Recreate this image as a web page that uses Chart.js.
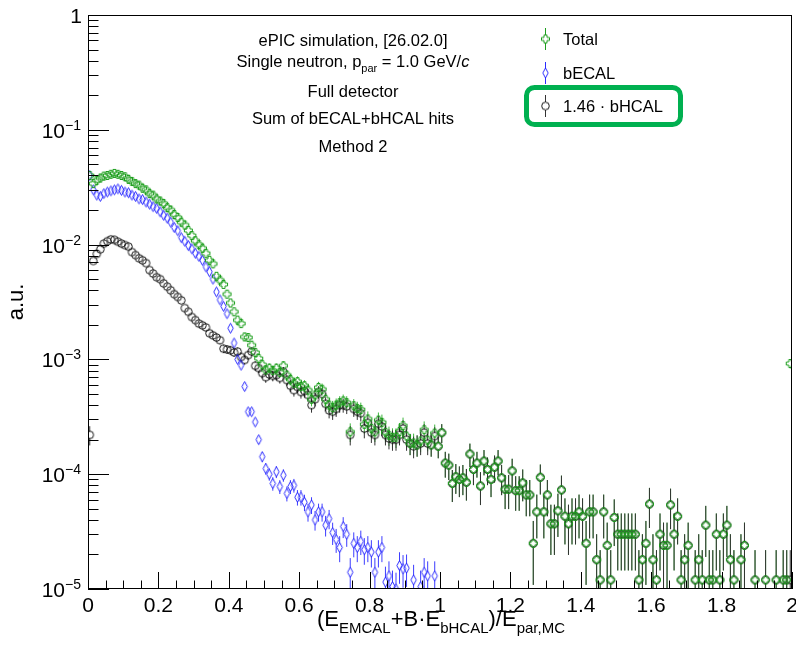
<!DOCTYPE html>
<html>
<head>
<meta charset="utf-8">
<script src="https://cdn.jsdelivr.net/npm/chart.js@4.4.0/dist/chart.umd.min.js"></script>
<style>
  html, body { margin: 0; padding: 0; background: #fff; }
  #wrap { width: 796px; height: 647px; }
</style>
</head>
<body>
<div id="wrap"><canvas id="resChart" width="796" height="647"></canvas></div>
<script>
// --- histogram binning: 200 bins of 0.01 from 0 to 2 ---
const N_BINS = 200;
const BIN_WIDTH = 0.01;
const binCenters = Array.from({ length: N_BINS }, (_, i) => +(0.005 + i * BIN_WIDTH).toFixed(3));

// --- series values (a.u.), one per bin, null = empty bin ---
const totalValues = [
  4.0e-2, 3.4e-2, 3.63e-2, 3.8e-2, 3.95e-2, 4.0e-2, 4.1e-2, 4.17e-2, 4.1e-2, 4.0e-2,
  3.9e-2, 3.7e-2, 3.55e-2, 3.4e-2, 3.3e-2, 3.1e-2, 3.0e-2, 2.78e-2, 2.7e-2, 2.5e-2,
  2.4e-2, 2.28e-2, 2.1e-2, 2.0e-2, 1.83e-2, 1.72e-2, 1.57e-2, 1.48e-2, 1.33e-2, 1.2e-2,
  1.08e-2, 1.0e-2, 9.3e-3, 8.4e-3, 7.3e-3, 6.8e-3, 5.3e-3, 4.9e-3, 4.5e-3, 3.7e-3,
  3.1e-3, 2.6e-3, 2.2e-3, 2.05e-3, 1.57e-3, 1.55e-3, 1.33e-3, 1.15e-3, 1.02e-3, 9.0e-4,
  8.1e-4, 8.4e-4, 8.0e-4, 8.4e-4, 7.7e-4, 8.8e-4, 7.3e-4, 6.7e-4, 6.2e-4, 6.4e-4,
  5.8e-4, 5.9e-4, 5.4e-4, 4.5e-4, 4.9e-4, 5.7e-4, 5.5e-4, 4.5e-4, 4.0e-4, 3.8e-4,
  4.0e-4, 4.2e-4, 4.35e-4, 4.2e-4, 2.34e-4, 3.95e-4, 3.73e-4, 3.66e-4, 2.72e-4, 3.03e-4,
  2.51e-4, 2.34e-4, 2.96e-4, 2.83e-4, 2.32e-4, 2.18e-4, 2.1e-4, 2.1e-4, 2.36e-4, 2.65e-4,
  2.15e-4, 1.85e-4, 1.87e-4, 1.8e-4, 1.95e-4, 2.44e-4, 1.98e-4, 1.8e-4, 2.28e-4, 1.75e-4,
  2.3e-4, 1.25e-4, 1.2e-4, 8.3e-5, 9.5e-5, 9.0e-5, 9.3e-5, 8.5e-5, 1.5e-4, 1.1e-4,
  1.25e-4, 7.9e-5, 1.3e-4, 1.1e-4, 9.0e-5, 1.15e-4, 1.3e-4, 9.3e-5, 7.4e-5, 7.4e-5,
  1.07e-4, 7.2e-5, 7.2e-5, 8.4e-5, 6.6e-5, 6.6e-5, 2.5e-5, 4.7e-5, 9.4e-5, 4.7e-5,
  6.6e-5, 3.7e-5, 3.7e-5, 4.8e-5, 7.3e-5, 4.3e-5, 3.7e-5, 4.3e-5, 4.3e-5, 4.7e-5,
  4.3e-5, 2.5e-5, 4.7e-5, 4.7e-5, 1.8e-5, 1.2e-5, 4.7e-5, 2.4e-5, 1.2e-5, 4.2e-5,
  3.0e-5, 3.0e-5, 3.0e-5, 3.0e-5, 3.0e-5, 3.0e-5, 1.2e-5, 1.8e-5, 2.5e-5, 5.5e-5,
  1.8e-5, 1.2e-5, 3.0e-5, 2.4e-5, 2.4e-5, 5.4e-5, 3.0e-5, 4.3e-5, 1.2e-5, 1.8e-5,
  2.4e-5, null, 1.2e-5, 1.8e-5, 1.2e-5, 3.6e-5, 1.2e-5, 1.2e-5, 3.0e-5, 1.2e-5,
  3.0e-5, 3.6e-5, 1.8e-5, 1.2e-5, null, 1.8e-5, 2.4e-5, null, null, 1.2e-5,
  null, null, 1.2e-5, null, null, 1.2e-5, null, 1.2e-5, 1.2e-5, 9.2e-4
];

const becalValues = [
  4.0e-2, 3.0e-2, 2.7e-2, 2.63e-2, 2.78e-2, 2.87e-2, 2.94e-2, 3.0e-2, 3.06e-2, 2.97e-2,
  2.87e-2, 2.83e-2, 2.7e-2, 2.63e-2, 2.5e-2, 2.47e-2, 2.35e-2, 2.25e-2, 2.14e-2, 2.07e-2,
  1.93e-2, 1.8e-2, 1.7e-2, 1.57e-2, 1.41e-2, 1.32e-2, 1.15e-2, 1.07e-2, 9.8e-3, 9.2e-3,
  8.4e-3, 7.9e-3, 7.3e-3, 6.4e-3, 5.8e-3, 5.0e-3, 3.87e-3, 3.3e-3, 2.9e-3, 2.5e-3,
  1.87e-3, 1.39e-3, 1.0e-3, 8.9e-4, 5.8e-4, 3.5e-4, 3.5e-4, 2.85e-4, 2.0e-4, 1.42e-4,
  1.12e-4, 1.0e-4, 8.3e-5, 1.05e-4, 7.8e-5, 9.8e-5, 6.8e-5, 7.8e-5, 8.0e-5, 6.3e-5,
  6.3e-5, 5.7e-5, 4.7e-5, 5.4e-5, 4.0e-5, 4.7e-5, 4.7e-5, 3.6e-5, 4.1e-5, 3.1e-5,
  2.7e-5, 2.3e-5, 3.5e-5, 3.0e-5, 1.4e-5, 2.5e-5, 2.3e-5, 2.6e-5, 2.2e-5, 2.3e-5,
  2.1e-5, 1.4e-5, 2.1e-5, 2.3e-5, 1.15e-5, 1.3e-5, 1.05e-5, 1.0e-5, 1.6e-5, 1.5e-5,
  1.52e-5, null, 1.2e-5, null, 1.05e-5, 1.4e-5, 1.3e-5, null, 1.3e-5, null
];

const bhcalValues = [
  2.2e-4, 7.2e-3, 8.3e-3, 9.1e-3, 1.02e-2, 1.07e-2, 1.11e-2, 1.10e-2, 1.06e-2, 1.02e-2,
  9.9e-3, 9.6e-3, 8.6e-3, 8.1e-3, 7.6e-3, 7.3e-3, 6.9e-3, 6.0e-3, 5.6e-3, 5.2e-3,
  5.0e-3, 4.6e-3, 4.3e-3, 4.0e-3, 3.7e-3, 3.5e-3, 3.27e-3, 2.8e-3, 2.6e-3, 2.34e-3,
  2.2e-3, 2.05e-3, 1.98e-3, 1.9e-3, 1.69e-3, 1.62e-3, 1.55e-3, 1.47e-3, 1.24e-3, 1.22e-3,
  1.2e-3, 1.15e-3, 1.17e-3, 1.05e-3, 9.9e-4, 1.09e-3, 1.17e-3, 8.8e-4, 8.4e-4, 7.6e-4,
  7.0e-4, 7.4e-4, 7.2e-4, 7.3e-4, 6.9e-4, 7.8e-4, 6.6e-4, 5.9e-4, 5.4e-4, 5.75e-4,
  5.2e-4, 5.3e-4, 4.9e-4, 4.0e-4, 4.5e-4, 5.2e-4, 5.0e-4, 4.1e-4, 3.6e-4, 3.5e-4,
  3.7e-4, 4.0e-4, 4.0e-4, 3.9e-4, 2.2e-4, 3.7e-4, 3.5e-4, 3.4e-4, 2.5e-4, 2.8e-4,
  2.3e-4, 2.2e-4, 2.75e-4, 2.6e-4, 2.2e-4, 2.05e-4, 2.0e-4, 2.0e-4, 2.2e-4, 2.5e-4,
  2.0e-4, 1.85e-4, 1.75e-4, 1.8e-4, 1.85e-4, 2.3e-4, 1.85e-4, 1.8e-4, 2.15e-4, 1.75e-4,
  2.3e-4, 1.25e-4, 1.2e-4, 8.3e-5, 9.5e-5, 9.0e-5, 9.3e-5, 8.5e-5, 1.5e-4, 1.1e-4,
  1.25e-4, 7.9e-5, 1.3e-4, 1.1e-4, 9.0e-5, 1.15e-4, 1.3e-4, 9.3e-5, 7.4e-5, 7.4e-5,
  1.07e-4, 7.2e-5, 7.2e-5, 8.4e-5, 6.6e-5, 6.6e-5, 2.5e-5, 4.7e-5, 9.4e-5, 4.7e-5,
  6.6e-5, 3.7e-5, 3.7e-5, 4.8e-5, 7.3e-5, 4.3e-5, 3.7e-5, 4.3e-5, 4.3e-5, 4.7e-5,
  4.3e-5, 2.5e-5, 4.7e-5, 4.7e-5, 1.8e-5, 1.2e-5, 4.7e-5, 2.4e-5, 1.2e-5, 4.2e-5,
  3.0e-5, 3.0e-5, 3.0e-5, 3.0e-5, 3.0e-5, 3.0e-5, 1.2e-5, 1.8e-5, 2.5e-5, 5.5e-5,
  1.8e-5, 1.2e-5, 3.0e-5, 2.4e-5, 2.4e-5, 5.4e-5, 3.0e-5, 4.3e-5, 1.2e-5, 1.8e-5,
  2.4e-5, null, 1.2e-5, 1.8e-5, 1.2e-5, 3.6e-5, 1.2e-5, 1.2e-5, 3.0e-5, 1.2e-5,
  3.0e-5, 3.6e-5, 1.8e-5, 1.2e-5, null, 1.8e-5, 2.4e-5, null, null, 1.2e-5,
  null, null, 1.2e-5, null, null, 1.2e-5, null, 1.2e-5, 1.2e-5, 1.2e-5
];

// weight of a single entry, gives the statistical error sqrt(value * w)
const totalEntryWeight = 8e-6;
const becalEntryWeight = 1.5e-6;
const bhcalEntryWeight = 8e-6;

// --- axes ---
const xTicks = [0, 0.2, 0.4, 0.6, 0.8, 1.0, 1.2, 1.4, 1.6, 1.8, 2.0];
const xTickLabels = ['0', '0.2', '0.4', '0.6', '0.8', '1', '1.2', '1.4', '1.6', '1.8', '2'];
const yTicks = [1, 1e-1, 1e-2, 1e-3, 1e-4, 1e-5];
const yTickExponents = [null, '\u22121', '\u22122', '\u22123', '\u22124', '\u22125'];

const legendLabels = ['Total', 'bECAL', '1.46 \u00b7 bHCAL'];
const infoLines = [
    'ePIC simulation, [26.02.0]',
    'Single neutron, p_par = 1.0 GeV/c',
    'Full detector',
    'Sum of bECAL+bHCAL hits',
    'Method 2'
];

const FONT = '"Liberation Sans", Arial, Helvetica, sans-serif';
const GREEN = '#1c9e1c';
const BLUE = '#2a2aff';

// open ROOT-like markers drawn on small canvases
function makeMarker(kind, color) {
    const c = document.createElement('canvas');
    c.width = 13; c.height = 13;
    const g = c.getContext('2d');
    g.strokeStyle = color;
    g.lineWidth = 1;
    const m = 6.5;
    g.beginPath();
    if (kind === 'circle') {
        g.arc(m, m, 3.8, 0, Math.PI * 2);
    } else if (kind === 'diamond') {
        g.moveTo(m, m - 5); g.lineTo(m + 2.7, m); g.lineTo(m, m + 5); g.lineTo(m - 2.7, m); g.closePath();
    } else {
        const a = 1.5, r = 4;
        const pts = [[-a,-r],[a,-r],[a,-a],[r,-a],[r,a],[a,a],[a,r],[-a,r],[-a,a],[-r,a],[-r,-a],[-a,-a]];
        pts.forEach(([dx, dy], k) => k ? g.lineTo(m + dx, m + dy) : g.moveTo(m + dx, m + dy));
        g.closePath();
    }
    g.stroke();
    return c;
}

const crossMarker = makeMarker('cross', GREEN);
const diamondMarker = makeMarker('diamond', BLUE);
const circleMarker = makeMarker('circle', '#111');

function toPoints(values) {
    const pts = [];
    values.forEach((v, i) => { if (v != null) pts.push({ x: binCenters[i], y: v }); });
    return pts;
}

// text with sub/superscripts: parts = [{t, size, dy, italic}]
function drawParts(ctx, parts, x, baseline, align) {
    const widths = parts.map(p => {
        ctx.font = (p.italic ? 'italic ' : '') + p.size + 'px ' + FONT;
        return ctx.measureText(p.t).width;
    });
    const total = widths.reduce((s, w) => s + w, 0);
    let cx = align === 'center' ? x - total / 2 : (align === 'right' ? x - total : x);
    ctx.textAlign = 'left';
    ctx.textBaseline = 'alphabetic';
    parts.forEach((p, k) => {
        ctx.font = (p.italic ? 'italic ' : '') + p.size + 'px ' + FONT;
        ctx.fillText(p.t, cx, baseline + (p.dy || 0));
        cx += widths[k];
    });
}

const rootStyle = {
    id: 'rootStyle',
    beforeDatasetsDraw(chart) {
        const { ctx, chartArea: a, scales: { x, y } } = chart;
        ctx.save();
        ctx.beginPath();
        ctx.rect(a.left, a.top, a.width, a.height);
        ctx.clip();
        ctx.lineWidth = 1;
        chart.data.datasets.forEach(ds => {
            ctx.strokeStyle = ds.errColor;
            ds.data.forEach(p => {
                const err = Math.sqrt(p.y * ds.entryWeight);
                const px = x.getPixelForValue(p.x);
                const py = y.getPixelForValue(p.y);
                const top = y.getPixelForValue(p.y + err);
                const lo = p.y - err;
                const bot = lo > 0 ? y.getPixelForValue(lo) : a.bottom + 5;
                ctx.beginPath();
                if (top < py - ds.gap) { ctx.moveTo(px, top); ctx.lineTo(px, py - ds.gap); }
                if (bot > py + ds.gap) { ctx.moveTo(px, py + ds.gap); ctx.lineTo(px, bot); }
                ctx.stroke();
            });
        });
        ctx.restore();
    },
    afterDraw(chart) {
        const { ctx, chartArea: a, scales: { x, y } } = chart;
        ctx.save();
        ctx.fillStyle = '#000';
        ctx.strokeStyle = '#000';
        ctx.lineWidth = 1;

        // frame
        ctx.strokeRect(a.left + 0.5, a.top + 0.5, a.width - 1, a.height - 1);

        // x ticks (inside)
        ctx.beginPath();
        for (let k = 0; k <= 40; k++) {
            const v = k * 0.05;
            const px = Math.round(x.getPixelForValue(v)) + 0.5;
            const len = k % 4 === 0 ? 17 : 8.5;
            ctx.moveTo(px, a.bottom);
            ctx.lineTo(px, a.bottom - len);
        }
        // y ticks (log, inside)
        for (let d = -5; d <= 0; d++) {
            for (let m = 1; m <= 9; m++) {
                const v = m * Math.pow(10, d);
                if (v > 1.0001) break;
                const py = Math.round(y.getPixelForValue(v)) + 0.5;
                const len = m === 1 ? 21 : 10.5;
                ctx.moveTo(a.left, py);
                ctx.lineTo(a.left + len, py);
            }
        }
        ctx.stroke();

        // x tick labels
        ctx.font = '21px ' + FONT;
        ctx.textAlign = 'center';
        ctx.textBaseline = 'alphabetic';
        xTicks.forEach((v, k) => ctx.fillText(xTickLabels[k], x.getPixelForValue(v), 612));

        // y tick labels
        yTicks.forEach((v, k) => {
            const py = y.getPixelForValue(v);
            const exp = yTickExponents[k];
            if (!exp) {
                ctx.font = '21px ' + FONT;
                ctx.textAlign = 'right';
                ctx.fillText('1', 82, py + 8);
            } else {
                drawParts(ctx, [{ t: '10', size: 21, dy: 8 }, { t: exp, size: 14, dy: 0 }], 81, py, 'right');
            }
        });

        // axis titles
        drawParts(ctx, [
            { t: '(E', size: 22 }, { t: 'EMCAL', size: 15, dy: 7 },
            { t: '+B\u00b7E', size: 22 }, { t: 'bHCAL', size: 15, dy: 7 },
            { t: ')/E', size: 22 }, { t: 'par,MC', size: 15, dy: 7 }
        ], 441, 626, 'center');

        ctx.save();
        ctx.translate(17, 302);
        ctx.rotate(-Math.PI / 2);
        ctx.font = '22px ' + FONT;
        ctx.textAlign = 'center';
        ctx.textBaseline = 'middle';
        ctx.fillText('a.u.', 0, 0);
        ctx.restore();

        // info text block
        const infoX = 353;
        const infoBase = [46, 67, 97, 124, 152];
        infoLines.forEach((line, k) => {
            if (line.indexOf('p_par') >= 0) {
                drawParts(ctx, [
                    { t: 'Single neutron, p', size: 16.5 },
                    { t: 'par', size: 11, dy: 5 },
                    { t: ' = 1.0 GeV/', size: 16.5 },
                    { t: 'c', size: 16.5, italic: true }
                ], infoX, infoBase[k], 'center');
            } else {
                ctx.font = '16.5px ' + FONT;
                ctx.textAlign = 'center';
                ctx.fillText(line, infoX, infoBase[k]);
            }
        });

        // legend
        const legendY = [39, 73, 106];
        const legendMarkers = [crossMarker, diamondMarker, circleMarker];
        const legendLine = [GREEN, BLUE, '#333'];
        legendLabels.forEach((lab, k) => {
            const my = legendY[k];
            ctx.strokeStyle = legendLine[k];
            ctx.beginPath();
            ctx.moveTo(545.5, my - 11); ctx.lineTo(545.5, my - 4);
            ctx.moveTo(545.5, my + 4); ctx.lineTo(545.5, my + 11);
            ctx.stroke();
            ctx.drawImage(legendMarkers[k], 545 - 6, my - 6.5);
            ctx.fillStyle = '#000';
            ctx.font = '16.5px ' + FONT;
            ctx.textAlign = 'left';
            ctx.textBaseline = 'middle';
            ctx.fillText(lab, 563, my + 1);
        });

        // highlight box around the bHCAL entry
        ctx.strokeStyle = '#00b050';
        ctx.lineWidth = 5;
        ctx.beginPath();
        ctx.roundRect(526.5, 87.5, 154, 37, 8);
        ctx.stroke();

        ctx.restore();
    }
};

const ctx = document.getElementById('resChart').getContext('2d');
const resChart = new Chart(ctx, {
    type: 'line',
    data: {
        datasets: [
            {
                label: legendLabels[0],
                data: toPoints(totalValues),
                pointStyle: crossMarker,
                errColor: '#3cb43c',
                entryWeight: totalEntryWeight,
                gap: 3
            },
            {
                label: legendLabels[1],
                data: toPoints(becalValues),
                pointStyle: diamondMarker,
                errColor: '#3c3cff',
                entryWeight: becalEntryWeight,
                gap: 4
            },
            {
                label: legendLabels[2],
                data: toPoints(bhcalValues),
                pointStyle: circleMarker,
                errColor: '#333',
                entryWeight: bhcalEntryWeight,
                gap: 3
            }
        ].map(ds => Object.assign(ds, { showLine: false, pointRadius: 4, borderWidth: 0 }))
    },
    options: {
        responsive: false,
        animation: false,
        events: [],
        layout: { padding: { left: 88, right: 3, top: 15, bottom: 58 } },
        plugins: { legend: { display: false }, tooltip: { enabled: false } },
        scales: {
            x: { type: 'linear', min: 0, max: 2, display: false },
            y: { type: 'logarithmic', min: 1e-5, max: 1, display: false }
        }
    },
    plugins: [rootStyle]
});
</script>
</body>
</html>
